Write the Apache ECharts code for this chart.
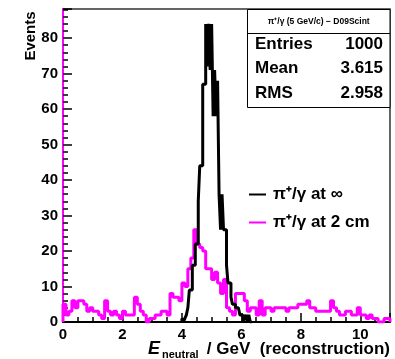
<!DOCTYPE html>
<html>
<head>
<meta charset="utf-8">
<script src="https://cdn.jsdelivr.net/npm/echarts@6/dist/echarts.min.js"></script>
<style>
html,body{margin:0;padding:0;background:#fff;}
#c{width:395px;height:359px;}
</style>
</head>
<body>
<div id="c"></div>
<script>
// ---- data ----
const xTicks = [0, 2, 4, 6, 8, 10];
const yTicks = [0, 10, 20, 30, 40, 50, 60, 70, 80];
const seriesNames = ['π⁺/γ at ∞', 'π⁺/γ at 2 cm'];
// magenta histogram: 0.1 GeV bins from 0 to 11
const magStart = 0.0;
const magWidth = 0.1;
const magCounts = [
  5, 2, 3, 6, 4, 6, 6, 5, 3, 4,
  3, 3, 2, 1, 6, 3, 2, 3, 2, 1,
  3, 2, 2, 2, 7, 5, 3, 2, 0, 1,
  1, 2, 2, 3, 3, 2, 8, 7, 7, 6,
  11, 10, 15, 18, 26, 22, 21, 20, 15, 15,
  12, 14, 11, 8, 12, 4, 3, 2, 8, 8,
  8, 6, 3, 4, 4, 2, 6, 2, 4, 4,
  3, 4, 4, 4, 4, 3, 4, 4, 4, 5,
  5, 5, 6, 4, 4, 3, 3, 3, 3, 3,
  6, 4, 3, 2, 2, 3, 3, 2, 2, 4,
  2, 2, 1, 2, 1, 1, 0, 0, 1, 1
];
// black histogram: 0.05 GeV bins starting at 4.00
const blkStart = 4.0;
const blkWidth = 0.05;
const blkCounts = [
  1, 0, 1, 2, 4, 9, 9, 16, 16, 22,
  22, 34, 44, 44, 67, 67, 84, 72, 84, 71,
  84, 58, 71, 58, 68, 36, 26, 36, 26, 26,
  16, 11, 11, 7, 5, 5, 4, 4, 4, 2,
  2, 0, 1, 2, 0, 2, 0
];
const statsTitle = 'π⁺/γ (5 GeV/c) − D09Scint';
const statsRows = [['Entries', '1000'], ['Mean', '3.615'], ['RMS', '2.958']];

function histPoints(start, width, counts) {
  const pts = [[start, 0]];
  counts.forEach((c, i) => pts.push([+(start + i * width).toFixed(4), c]));
  const end = +(start + counts.length * width).toFixed(4);
  pts.push([end, counts[counts.length - 1]]);
  pts.push([end, 0]);
  return pts;
}

const FONT = 'Liberation Sans, Arial, Helvetica, sans-serif';
const chart = echarts.init(document.getElementById('c'), null, {renderer: 'canvas'});

const L = 63, R = 390, T = 9, B = 322;
const graphics = [];
// Events label
graphics.push({type: 'text', x: 31, y: 36, rotation: Math.PI / 2,
  style: {text: 'Events', font: 'bold 15px ' + FONT, fill: '#000', textAlign: 'center', textVerticalAlign: 'middle'}});
// x axis title
graphics.push({type: 'text', x: 390, y: 349,
  style: {text: '/ GeV  (reconstruction)', font: 'bold 17px ' + FONT, fill: '#000', textAlign: 'right', textVerticalAlign: 'middle'}});
graphics.push({type: 'text', x: 148, y: 349,
  style: {text: 'E', font: 'italic bold 18px ' + FONT, fill: '#000', textAlign: 'left', textVerticalAlign: 'middle'}});
graphics.push({type: 'text', x: 162, y: 355,
  style: {text: 'neutral', font: 'bold 11px ' + FONT, fill: '#000', textAlign: 'left', textVerticalAlign: 'middle'}});
// stats box
const bx = 247.5, by = 9.5, bw = R - bx, bh = 98;
graphics.push({type: 'rect', shape: {x: bx, y: by, width: bw, height: bh},
  style: {fill: '#fff', stroke: '#000', lineWidth: 1}, z: 10});
graphics.push({type: 'line', shape: {x1: bx, y1: 33.5, x2: R, y2: 33.5},
  style: {stroke: '#000', lineWidth: 1}, z: 11});
graphics.push({type: 'text', x: (bx + R) / 2, y: 21.5, z: 11,
  style: {text: statsTitle, font: 'bold 8.5px ' + FONT, fill: '#000', textAlign: 'center', textVerticalAlign: 'middle'}});
statsRows.forEach((r, i) => {
  const yy = 44 + i * 24.5;
  graphics.push({type: 'text', x: 255, y: yy, z: 11,
    style: {text: r[0], font: 'bold 17px ' + FONT, fill: '#000', textAlign: 'left', textVerticalAlign: 'middle'}});
  graphics.push({type: 'text', x: 383, y: yy, z: 11,
    style: {text: r[1], font: 'bold 17px ' + FONT, fill: '#000', textAlign: 'right', textVerticalAlign: 'middle'}});
});

const option = {
  animation: false,
  backgroundColor: '#fff',
  grid: {left: L, right: 395 - R, top: T, bottom: 359 - B, show: true, borderColor: '#333', borderWidth: 1.5, backgroundColor: 'transparent'},
  xAxis: {
    type: 'value', min: 0, max: 11, interval: 2,
    axisLine: {show: true, onZero: false, lineStyle: {color: '#000', width: 2}},
    axisTick: {show: true, inside: true, length: 9, lineStyle: {color: '#000', width: 1.5}},
    minorTick: {show: true, splitNumber: 4, length: 5, lineStyle: {color: '#000', width: 1.5}},
    splitLine: {show: false},
    axisLabel: {show: true, fontFamily: FONT, fontWeight: 'bold', fontSize: 15, color: '#000', margin: 5,
      showMaxLabel: false, formatter: v => (xTicks.indexOf(v) >= 0 ? String(v) : '')}
  },
  yAxis: {
    type: 'value', min: 0, max: 88.2, interval: 10,
    axisLine: {show: true, onZero: false, lineStyle: {color: '#ff00ff', width: 2}},
    axisTick: {show: true, inside: true, length: 9, lineStyle: {color: '#000', width: 1.5}},
    minorTick: {show: true, splitNumber: 5, length: 5, lineStyle: {color: '#000', width: 1.5}},
    splitLine: {show: false},
    axisLabel: {show: true, fontFamily: FONT, fontWeight: 'bold', fontSize: 15, color: '#000', margin: 5,
      showMaxLabel: false, formatter: v => (yTicks.indexOf(v) >= 0 ? String(v) : '')}
  },
  legend: {
    show: true, orient: 'vertical', left: 244, top: 181, itemGap: 11,
    itemWidth: 17, itemHeight: 2, icon: 'rect',
    textStyle: {fontFamily: FONT, fontWeight: 'bold', fontSize: 17, color: '#000', padding: [0, 0, 0, 2]},
    data: seriesNames
  },
  series: [
    {name: seriesNames[1], type: 'line', step: 'end', showSymbol: false, symbol: 'none',
      data: histPoints(magStart, magWidth, magCounts),
      lineStyle: {color: '#ff00ff', width: 3}, itemStyle: {color: '#ff00ff'}, z: 2, clip: true},
    {name: seriesNames[0], type: 'line', step: 'end', showSymbol: false, symbol: 'none',
      data: histPoints(blkStart, blkWidth, blkCounts),
      lineStyle: {color: '#000', width: 3}, itemStyle: {color: '#000'}, z: 3, clip: true}
  ],
  graphic: graphics
};
chart.setOption(option);
</script>
</body>
</html>
